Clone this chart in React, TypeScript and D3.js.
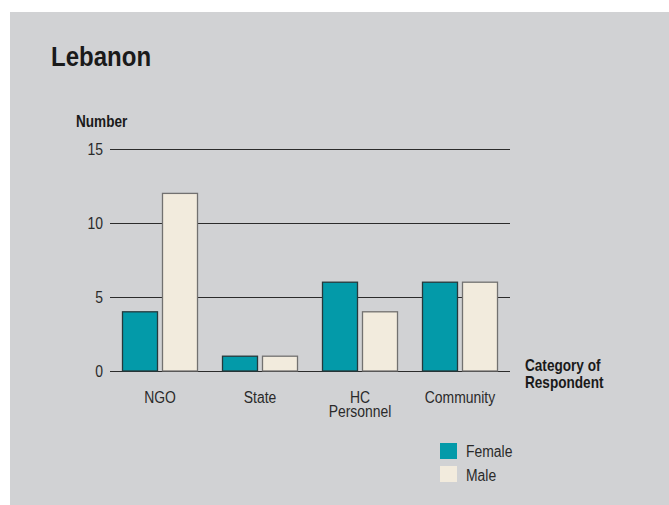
import React from 'react'
import * as d3 from 'd3'

// data
const categories = ['NGO', 'State', 'HC Personnel', 'Community']
const categoryLines = [['NGO'], ['State'], ['HC', 'Personnel'], ['Community']]
const seriesNames = ['Female', 'Male']
const female = [4, 1, 6, 6]
const male = [12, 1, 4, 6]
const yTicks = [0, 5, 10, 15]

const W = 669
const H = 505
const FONT = "'Liberation Sans', Arial, sans-serif"
const colors = { Female: '#039aa9', Male: '#f2ebdd' }
const strokes = { Female: '#26393c', Male: '#727170' }

// condensed-looking text: Liberation Sans squeezed horizontally
function T({ x, y, size = 16, bold = false, sx = 0.87, anchor = 'start', fill = '#2a2a2a', lines, lh = 15, children }: any) {
  return (
    <g transform={`translate(${x},${y}) scale(${sx},1)`}>
      <text x={0} y={0} fontSize={size} fontWeight={bold ? 'bold' : 'normal'} textAnchor={anchor} fill={fill}>
        {lines
          ? lines.map((l: string, j: number) => <tspan key={j} x={0} dy={j === 0 ? 0 : lh}>{l}</tspan>)
          : children}
      </text>
    </g>
  )
}

function App() {
  const x = d3.scaleBand().domain(categories).range([110, 510]).paddingInner(0.24).paddingOuter(0.12)
  const xSub = d3.scaleBand().domain(seriesNames).range([0, x.bandwidth()]).paddingInner(0.1)
  const y = d3.scaleLinear().domain([0, 15]).range([371, 149])

  const values = { Female: female, Male: male }

  return (
    <svg width={W} height={H} style={{ position: 'absolute', left: 0, top: 0 }} fontFamily={FONT}>
      <rect x={0} y={0} width={W} height={H} fill="#fff" />
      <rect x={10} y={12} width={W - 10} height={H - 12} fill="#d1d2d4" />

      <T x={51} y={66} size={27} bold sx={0.89} fill="#1a1a1a">Lebanon</T>
      <T x={76} y={127} size={16} bold sx={0.85} fill="#1a1a1a">Number</T>

      {/* gridlines + ticks */}
      {yTicks.map(t => (
        <g key={t}>
          <line x1={110} x2={510} y1={y(t) + 0.5} y2={y(t) + 0.5} stroke="#2b2b2b" strokeWidth={1} />
          <T x={103} y={y(t) + 5.5} anchor="end">{t}</T>
        </g>
      ))}

      {/* bars */}
      {categories.map((c, i) => (
        <g key={c} transform={`translate(${x(c)},0)`}>
          {seriesNames.map(s => (
            <rect key={s}
              x={xSub(s)! + 0.5}
              y={y(values[s][i])}
              width={xSub.bandwidth() - 1}
              height={y(0) - y(values[s][i])}
              fill={colors[s]}
              stroke={strokes[s]}
              strokeWidth={1.3} />
          ))}
        </g>
      ))}

      {/* category labels */}
      {categories.map((c, i) => (
        <T key={c} x={x(c)! + x.bandwidth() / 2} y={402.5} anchor="middle" lines={categoryLines[i]} lh={14.8} />
      ))}

      <T x={525} y={371} size={16} bold sx={0.85} fill="#1a1a1a" lines={['Category of', 'Respondent']} lh={17} />

      {/* legend */}
      {seriesNames.map((s, i) => (
        <g key={s}>
          <rect x={440} y={443 + i * 23} width={17} height={16} fill={colors[s]} />
          <T x={466} y={457 + i * 24}>{s}</T>
        </g>
      ))}
    </svg>
  )
}

export default App
